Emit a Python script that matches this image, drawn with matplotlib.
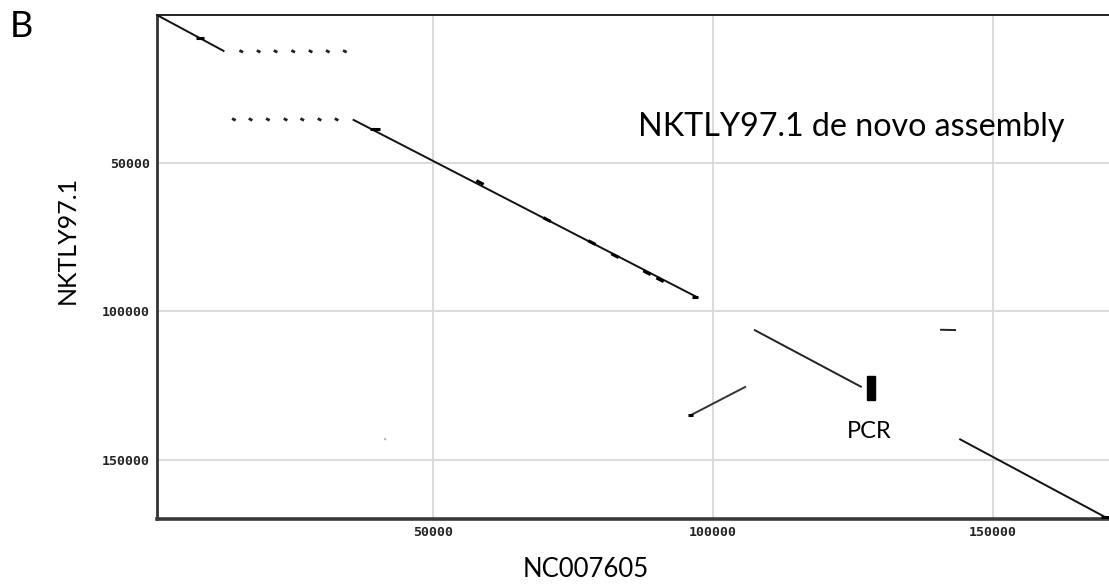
import matplotlib
matplotlib.use("Agg")
import matplotlib.pyplot as plt
from matplotlib.patches import Rectangle

W, H = 1109, 586

# alignment segments: reference (NC007605) vs query (NKTLY97.1)
ref_start = [700, 35660, 107320, 105890, 140540, 143980, 41300]
ref_end = [12750, 97090, 126550, 95890, 143390, 170000, 41600]
qry_start = [0, 35240, 106180, 125340, 106180, 143010, 142900]
qry_end = [12260, 95140, 125540, 135140, 106300, 169360, 143300]
seg_color = ["#111111", "#111111", "#222222", "#333333", "#222222", "#111111", "#aaaaaa"]

# repeat hits (IR1) shown as dotted rows
rep1_ref = [15660, 18750, 21790, 24930, 28040, 31110, 34160]
rep1_qry = 12260
rep2_ref = [14340, 17320, 20410, 23570, 26550, 29640, 32680]
rep2_qry = 35240

# short heavy pieces along the diagonal
heavy_ref0 = [7700, 38750, 96200, 169300, 95500]
heavy_ref1 = [9100, 40540, 97300, 171000, 96400]
heavy_qry = [7800, 38300, 95140, 169500, 135000]

blip_ref = [58390, 70360, 78390, 82500, 88210, 90540]
blip_qry = [56520, 69020, 76790, 81180, 86930, 89300]

pcr_ref = [127450, 128930]
pcr_qry = [121860, 129830]

x_ticks = [50000, 100000, 150000]
y_ticks = [50000, 100000, 150000]

fig = plt.figure(figsize=(W / 100, H / 100), dpi=100)
ax = fig.add_axes([157 / W, 1 - 519 / H, 1 - 157 / W, (519 - 15) / H])

for x0, x1, y0, y1, c in zip(ref_start, ref_end, qry_start, qry_end, seg_color):
    ax.plot([x0, x1], [y0, y1], color=c, lw=1.4, solid_capstyle="butt", zorder=3)

for r in rep1_ref:
    ax.plot([r, r + 200], [rep1_qry - 100, rep1_qry + 100], color="#222222", lw=2.0, zorder=3)
for r in rep2_ref:
    ax.plot([r, r + 200], [rep2_qry - 100, rep2_qry + 100], color="#222222", lw=2.0, zorder=3)

for x0, x1, y in zip(heavy_ref0, heavy_ref1, heavy_qry):
    ax.plot([x0, x1], [y, y], color="black", lw=2.2, solid_capstyle="butt", zorder=4)

for x, y in zip(blip_ref, blip_qry):
    ax.plot([x - 400, x + 400], [y - 390, y + 390], color="black", lw=2.3, zorder=4)

ax.add_patch(Rectangle((pcr_ref[0], pcr_qry[0]), pcr_ref[1] - pcr_ref[0],
                       pcr_qry[1] - pcr_qry[0], color="black", zorder=5))

ax.set_xlim(714, 170710)
ax.set_ylim(170030, 0)
ax.set_xticks(x_ticks)
ax.set_yticks(y_ticks)
ax.grid(True, color="#d4d4d4", lw=1.2)
ax.set_axisbelow(True)
ax.tick_params(length=0, pad=5)
for lab in ax.get_xticklabels() + ax.get_yticklabels():
    lab.set_fontfamily("DejaVu Sans Mono")
    lab.set_fontweight("bold")
    lab.set_fontsize(9.5)
    lab.set_color("#222222")

ax.spines["right"].set_visible(False)
ax.spines["top"].set_linewidth(1.4)
ax.spines["top"].set_color("#222222")
ax.spines["left"].set_linewidth(2.0)
ax.spines["left"].set_color("#333333")
ax.spines["bottom"].set_linewidth(2.6)
ax.spines["bottom"].set_color("#3a3a3a")

font = "Lato"
fig.text(638 / W, 1 - 136 / H, "NKTLY97.1 de novo assembly", fontsize=23.2,
         family=font, va="baseline", ha="left")
fig.text(869 / W, 1 - 438 / H, "PCR", fontsize=17, family=font, va="baseline", ha="center")
fig.text(586 / W, 1 - 577 / H, "NC007605", fontsize=18.5, family=font, va="baseline", ha="center")
fig.text(67 / W, 1 - 240 / H, "NKTLY97.1", fontsize=18, family=font, rotation=90,
         va="center", ha="center")
fig.text(10 / W, 1 - 37 / H, "B", fontsize=26, family=font, va="baseline", ha="left")

fig.savefig("out.png", dpi=100)
